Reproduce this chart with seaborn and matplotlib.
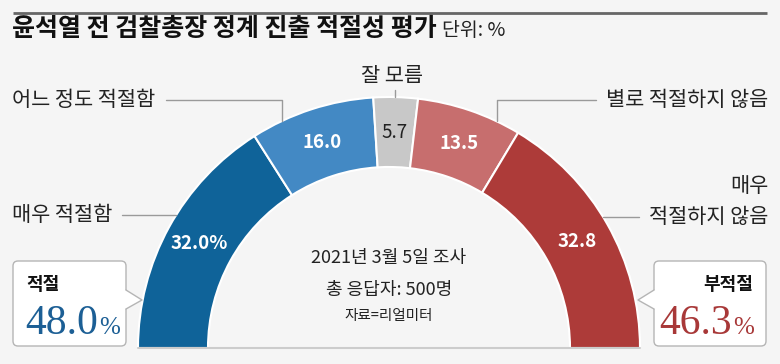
import matplotlib
matplotlib.use("Agg")
import matplotlib.pyplot as plt
from matplotlib.patches import FancyBboxPatch, Polygon
import seaborn as sns

# survey answers, left to right along the half ring
answers = ["매우 적절함", "어느 정도 적절함", "잘 모름", "별로 적절하지 않음", "매우 적절하지 않음"]
shares = [32.0, 16.0, 5.7, 13.5, 32.8]
colors = ["#0f6399", "#4389c4", "#c8c8c8", "#c76e6e", "#ad3b39"]

# summed groups shown in the two call-out boxes
groups = ["적절", "부적절"]
group_shares = [48.0, 46.3]
group_colors = ["#1c5f95", "#a83838"]

title = "윤석열 전 검찰총장 정계 진출 적절성 평가"
unit = "단위: %"
notes = ["2021년 3월 5일 조사", "총 응답자: 500명", "자료=리얼미터"]

W, H = 780, 364
BG = "#f5f5f5"
TXT = "#222222"
LINE = "#9a9a9a"

sns.set_style("white")
plt.rcParams["font.family"] = ["Noto Sans CJK KR", "DejaVu Sans"]

fig = plt.figure(figsize=(W / 100, H / 100), dpi=100, facecolor=BG)
ax = fig.add_axes([0, 0, 1, 1])
ax.set_facecolor(BG)


def Y(y):
    # pixel row (from top) -> data y
    return H - y


cx, cy = 389, Y(348)
R, r = 251, 181

# half donut: an invisible wedge fills the lower half
vals = shares + [sum(shares)]
pct_txt = iter([f"{v:.1f}%" if i == 0 else f"{v:.1f}" for i, v in enumerate(shares)] + [""])
wedges, _, autotexts = ax.pie(
    vals, colors=colors + ["none"], startangle=180, counterclock=False,
    radius=R, center=(cx, cy),
    wedgeprops=dict(width=R - r, edgecolor="white", linewidth=1.5),
    autopct=lambda p: next(pct_txt), pctdistance=(R + r) / 2 / R,
    textprops=dict(fontsize=13.5))
wedges[-1].set_visible(False)
for i, t in enumerate(autotexts[:-1]):
    if i == 2:
        t.set_color(TXT)
    else:
        t.set_color("white")
        t.set_fontweight("bold")

ax.set_xlim(0, W)
ax.set_ylim(0, H)
ax.axis("off")

# base line under the ring
ax.plot([cx - R, cx + R], [cy, cy], color="#cccccc", lw=1.5, zorder=3)

# top rule and title
ax.plot([13, 767], [Y(13), Y(13)], color="#666666", lw=2, solid_capstyle="butt")
t_title = ax.text(12, Y(29), title, fontsize=18, fontweight="bold", color="#111111",
                  ha="left", va="center")
fig.canvas.draw()
renderer = fig.canvas.get_renderer()


def ext(t):
    return t.get_window_extent(renderer).transformed(ax.transData.inverted())


ax.text(ext(t_title).x1 + 5, Y(30), unit, fontsize=14, color=TXT, ha="left", va="center")

# answer labels with leader lines
lab = dict(fontsize=15, color=TXT, va="center")
ax.text(12, Y(100), answers[1], ha="left", **lab)
ax.plot([166, 282, 282], [Y(100), Y(100), Y(121)], color=LINE, lw=1)

ax.text(12, Y(215), answers[0], ha="left", **lab)
ax.plot([122, 176], [Y(215), Y(215)], color=LINE, lw=1)

ax.text(392, Y(76), answers[2], ha="center", **lab)
ax.plot([395, 395], [Y(90), Y(97)], color=LINE, lw=1)

ax.text(768, Y(100), answers[3], ha="right", **lab)
ax.plot([596, 497, 497], [Y(100), Y(100), Y(121)], color=LINE, lw=1)

first, rest = answers[4].split(" ", 1)
ax.text(768, Y(186), first, ha="right", **lab)
ax.text(768, Y(217), rest, ha="right", **lab)
ax.plot([603, 639], [Y(217), Y(217)], color=LINE, lw=1)

# notes in the middle
ax.text(cx, Y(258), notes[0], fontsize=13, color=TXT, ha="center", va="center")
ax.text(cx, Y(290), notes[1], fontsize=13, color=TXT, ha="center", va="center")
ax.text(cx, Y(316), notes[2], fontsize=10.5, color=TXT, ha="center", va="center")

# call-out boxes
BOX_EC = "#b5b5b5"


def callout(x0, x1, tip_x, base_x):
    box = FancyBboxPatch((x0, Y(346)), x1 - x0, 85,
                         boxstyle="round,pad=0,rounding_size=5",
                         fc="white", ec=BOX_EC, lw=1, zorder=4)
    ax.add_patch(box)
    inner = base_x - 1 if tip_x > base_x else base_x + 1
    ax.add_patch(Polygon([(inner, Y(290)), (tip_x, Y(300)), (inner, Y(309))],
                         closed=True, fc="white", ec="none", zorder=5))
    ax.plot([base_x, tip_x, base_x], [Y(290), Y(300), Y(309)], color=BOX_EC, lw=1, zorder=6)


callout(13, 126, 142, 126)
callout(654, 766, 638, 654)

ax.text(26, Y(285), groups[0], fontsize=13, fontweight="bold", color="#111111",
        ha="left", va="center", zorder=7)
num_l = ax.text(25, Y(334), f"{group_shares[0]:.1f}", fontsize=30, family="Liberation Serif",
                color=group_colors[0], ha="left", va="baseline", zorder=7)
fig.canvas.draw()
ax.text(ext(num_l).x1 + 1, Y(334), "%", fontsize=18, family="Liberation Serif",
        color=group_colors[0], ha="left", va="baseline", zorder=7)

ax.text(753, Y(285), groups[1], fontsize=13, fontweight="bold", color="#111111",
        ha="right", va="center", zorder=7)
pct_r = ax.text(754, Y(334), "%", fontsize=18, family="Liberation Serif",
                color=group_colors[1], ha="right", va="baseline", zorder=7)
fig.canvas.draw()
ax.text(ext(pct_r).x0 - 1, Y(334), f"{group_shares[1]:.1f}", fontsize=30, family="Liberation Serif",
        color=group_colors[1], ha="right", va="baseline", zorder=7)

fig.savefig("out.png", dpi=100, facecolor=BG)
